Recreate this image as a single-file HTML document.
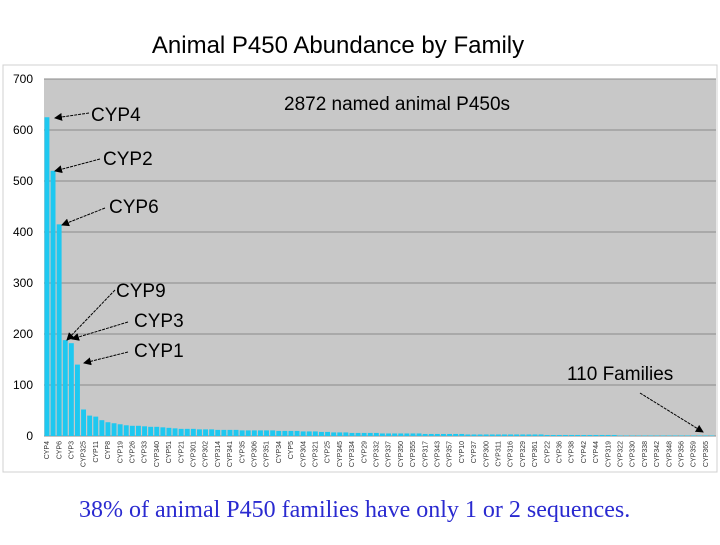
<!DOCTYPE html>
<html><head><meta charset="utf-8"><style>
body{margin:0;background:#fff;width:720px;height:540px;overflow:hidden;font-family:"Liberation Sans",sans-serif}
</style></head><body>
<svg width="720" height="540" xmlns="http://www.w3.org/2000/svg">
<defs><marker id="ah" markerWidth="8" markerHeight="8" refX="7" refY="4" orient="auto"><path d="M0,0L8,4L0,8z" fill="#000"/></marker></defs>
<text x="338" y="53" font-size="24" text-anchor="middle">Animal P450 Abundance by Family</text>
<rect x="3" y="65" width="714" height="407" fill="#fff" stroke="#d0d0d0"/>
<rect x="44" y="79" width="672" height="357" fill="#c8c8c8"/>
<g id="grid"></g><g id="bars"></g><g id="ylab"></g><g id="xlab"></g>
<text x="284" y="110" font-size="19">2872 named animal P450s</text>
<g font-size="19">
<text x="91" y="121">CYP4</text>
<line x1="89" y1="113" x2="55" y2="118" stroke="#000" stroke-dasharray="3,1" marker-end="url(#ah)"/>
<text x="103" y="165">CYP2</text>
<line x1="100" y1="159" x2="55" y2="171" stroke="#000" stroke-dasharray="3,1" marker-end="url(#ah)"/>
<text x="109" y="213">CYP6</text>
<line x1="105" y1="208" x2="62" y2="225" stroke="#000" stroke-dasharray="3,1" marker-end="url(#ah)"/>
<text x="116" y="297">CYP9</text>
<line x1="115" y1="290" x2="67" y2="340" stroke="#000" stroke-dasharray="3,1" marker-end="url(#ah)"/>
<text x="134" y="327">CYP3</text>
<line x1="128" y1="322" x2="72" y2="339" stroke="#000" stroke-dasharray="3,1" marker-end="url(#ah)"/>
<text x="134" y="357">CYP1</text>
<line x1="128" y1="352" x2="84" y2="363" stroke="#000" stroke-dasharray="3,1" marker-end="url(#ah)"/>
<text x="567" y="380">110 Families</text>
<line x1="640" y1="393" x2="703" y2="432" stroke="#000" stroke-dasharray="3,1" marker-end="url(#ah)"/>
</g>
<text x="79" y="517" font-size="24" fill="#2a2ad0" font-family="'Liberation Serif',serif">38% of animal P450 families have only 1 or 2 sequences.</text>
</svg>
<script>
const values=[625,520,415,188,182,140,
52,40,38,31,27,25,23,21,20,20,
19,18,18,17,16,15,14,14,14,13,13,13,12,12,12,
12,11,11,11,11,11,11,10,10,10,10,9,9,9,8,
8,7,7,7,6,6,6,6,6,5,5,5,5,5,5,
5,4,4,4,4,4,4,4,3,3,3,3,3,3,3,
3,3,3,3,3,3,2,2,2,2,2,2,2,2,2,
2,2,2,1,1,1,1,1,1,1,1,1,1,1,1,1,1,1,1];
const categories=["CYP4","CYP6","CYP3","CYP325","CYP11","CYP8","CYP19","CYP26","CYP33","CYP340","CYP51","CYP21","CYP301","CYP302","CYP314","CYP341","CYP35","CYP306","CYP351","CYP34","CYP5","CYP304","CYP321","CYP25","CYP345","CYP334","CYP29","CYP332","CYP337","CYP350","CYP355","CYP317","CYP343","CYP357","CYP10","CYP37","CYP300","CYP311","CYP316","CYP329","CYP361","CYP22","CYP36","CYP38","CYP42","CYP44","CYP319","CYP322","CYP330","CYP338","CYP342","CYP348","CYP356","CYP359","CYP365"];
const yTicks=[0,100,200,300,400,500,600,700];
const NS="http://www.w3.org/2000/svg";
const x0=44,x1=715,yb=436,yt=79,ymax=700;
const step=(x1-x0)/values.length;
const X=i=>x0+i*step;
const Y=v=>yb-(v/ymax)*(yb-yt);
function mk(t,a,p){const e=document.createElementNS(NS,t);for(const k in a)e.setAttribute(k,a[k]);p.appendChild(e);return e;}
const grid=document.getElementById('grid'),bars=document.getElementById('bars'),yl=document.getElementById('ylab'),xl=document.getElementById('xlab');
yTicks.forEach(t=>{
 const l=mk('line',{x1:x0,x2:716,y1:Y(t),y2:Y(t),stroke:'#8a8a8a','stroke-width':1},grid);
 
 
 const tx=mk('text',{x:33,y:Y(t)+4,'font-size':12,'text-anchor':'end'},yl);
 tx.textContent=t;
 
 
});
values.forEach((v,i)=>{
 const r=mk('rect',{x:X(i)+0.5,y:Y(v),width:step-1.2,height:yb-Y(v),fill:'#1ec8f0'},bars);
 
 
});
categories.forEach((c,j)=>{
 const cx=X(j*2)+step/2+2;
 const t=mk('text',{x:0,y:0,'font-size':7,'text-anchor':'end',fill:'#333',transform:`translate(${cx},441) rotate(-90)`},xl);
 t.textContent=c;
 
 
});
</script>
</body></html>
